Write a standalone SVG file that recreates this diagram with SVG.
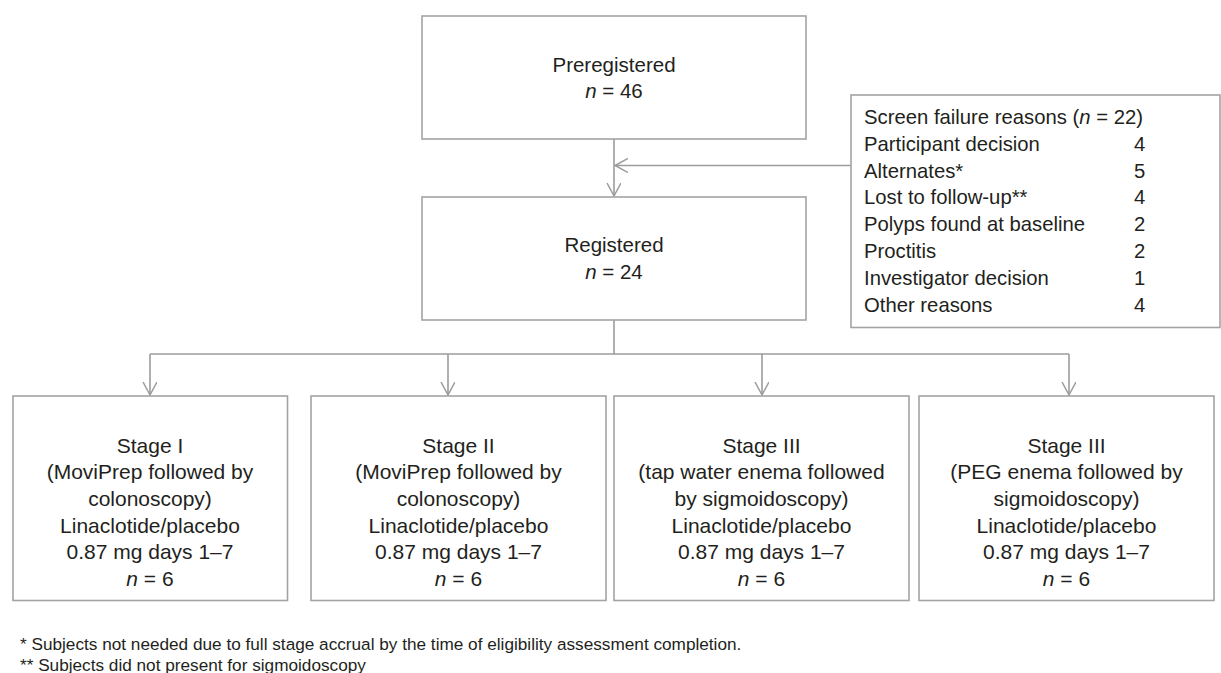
<svg xmlns="http://www.w3.org/2000/svg" width="1221" height="673" viewBox="0 0 1221 673">
<defs>
<style>
.box{fill:#fff;stroke:#a3a3a3;stroke-width:1.6}
.ln{fill:none;stroke:#9c9c9c;stroke-width:1.6}
text{font-family:"Liberation Sans",Arial,sans-serif;fill:#231f20}
.t{font-size:20.5px;text-anchor:middle}
.s{font-size:21px;text-anchor:middle}
.r{font-size:20.3px}
.f{font-size:17.2px}
.i{font-style:italic}
</style>
<marker id="ah" markerWidth="16" markerHeight="16" refX="13" refY="7" orient="auto" markerUnits="userSpaceOnUse">
<path d="M0,0 L13,7 L0,14" fill="none" stroke="#9c9c9c" stroke-width="1.5"/>
</marker>
</defs>
<g id="connectors">
<line class="ln" x1="614" y1="139" x2="614" y2="196" marker-end="url(#ah)"/>
<line class="ln" x1="851" y1="165.5" x2="615" y2="165.5" marker-end="url(#ah)"/>
<polyline class="ln" points="614,320 614,354"/>
<polyline class="ln" points="150,354 1069,354"/>
<line class="ln" x1="150" y1="354" x2="150" y2="395" marker-end="url(#ah)"/>
<line class="ln" x1="448" y1="354" x2="448" y2="395" marker-end="url(#ah)"/>
<line class="ln" x1="762" y1="354" x2="762" y2="395" marker-end="url(#ah)"/>
<line class="ln" x1="1069" y1="354" x2="1069" y2="395" marker-end="url(#ah)"/>
</g>
<g id="preregistered">
<rect class="box" x="422" y="16" width="384" height="123"/>
<text class="t" x="614" y="71.7">Preregistered</text>
<text class="t" x="614" y="98.4"><tspan class="i">n</tspan> = 46</text>
</g>
<g id="registered">
<rect class="box" x="422" y="197" width="384" height="123"/>
<text class="t" x="614" y="252.3">Registered</text>
<text class="t" x="614" y="279"><tspan class="i">n</tspan> = 24</text>
</g>
<g id="screen-failure">
<rect class="box" x="851" y="95" width="369" height="232.5"/>
<text class="r" x="864" y="124">Screen failure reasons (<tspan class="i">n</tspan> = 22)</text>
<text class="r" x="864" y="150.8">Participant decision</text>
<text class="r" x="1134" y="150.8">4</text>
<text class="r" x="864" y="177.6">Alternates*</text>
<text class="r" x="1134" y="177.6">5</text>
<text class="r" x="864" y="204.4">Lost to follow-up**</text>
<text class="r" x="1134" y="204.4">4</text>
<text class="r" x="864" y="231.2">Polyps found at baseline</text>
<text class="r" x="1134" y="231.2">2</text>
<text class="r" x="864" y="258">Proctitis</text>
<text class="r" x="1134" y="258">2</text>
<text class="r" x="864" y="284.8">Investigator decision</text>
<text class="r" x="1134" y="284.8">1</text>
<text class="r" x="864" y="311.6">Other reasons</text>
<text class="r" x="1134" y="311.6">4</text>
</g>
<g id="stage1">
<rect class="box" x="13" y="396" width="274.5" height="204.5"/>
<text class="s" x="150" y="452.5">Stage I</text>
<text class="s" x="150" y="479.2">(MoviPrep followed by</text>
<text class="s" x="150" y="505.8">colonoscopy)</text>
<text class="s" x="150" y="532.5">Linaclotide/placebo</text>
<text class="s" x="150" y="559.2">0.87 mg days 1–7</text>
<text class="s" x="150" y="585.8"><tspan class="i">n</tspan> = 6</text>
</g>
<g id="stage2">
<rect class="box" x="311" y="396" width="295" height="204.5"/>
<text class="s" x="458.5" y="452.5">Stage II</text>
<text class="s" x="458.5" y="479.2">(MoviPrep followed by</text>
<text class="s" x="458.5" y="505.8">colonoscopy)</text>
<text class="s" x="458.5" y="532.5">Linaclotide/placebo</text>
<text class="s" x="458.5" y="559.2">0.87 mg days 1–7</text>
<text class="s" x="458.5" y="585.8"><tspan class="i">n</tspan> = 6</text>
</g>
<g id="stage3a">
<rect class="box" x="614" y="396" width="295" height="204.5"/>
<text class="s" x="761.5" y="452.5">Stage III</text>
<text class="s" x="761.5" y="479.2">(tap water enema followed</text>
<text class="s" x="761.5" y="505.8">by sigmoidoscopy)</text>
<text class="s" x="761.5" y="532.5">Linaclotide/placebo</text>
<text class="s" x="761.5" y="559.2">0.87 mg days 1–7</text>
<text class="s" x="761.5" y="585.8"><tspan class="i">n</tspan> = 6</text>
</g>
<g id="stage3b">
<rect class="box" x="919" y="396" width="295" height="204.5"/>
<text class="s" x="1066.5" y="452.5">Stage III</text>
<text class="s" x="1066.5" y="479.2">(PEG enema followed by</text>
<text class="s" x="1066.5" y="505.8">sigmoidoscopy)</text>
<text class="s" x="1066.5" y="532.5">Linaclotide/placebo</text>
<text class="s" x="1066.5" y="559.2">0.87 mg days 1–7</text>
<text class="s" x="1066.5" y="585.8"><tspan class="i">n</tspan> = 6</text>
</g>
<g id="footnotes">
<text class="f" x="20" y="650">* Subjects not needed due to full stage accrual by the time of eligibility assessment completion.</text>
<text class="f" x="20" y="671">** Subjects did not present for sigmoidoscopy</text>
</g>
</svg>
